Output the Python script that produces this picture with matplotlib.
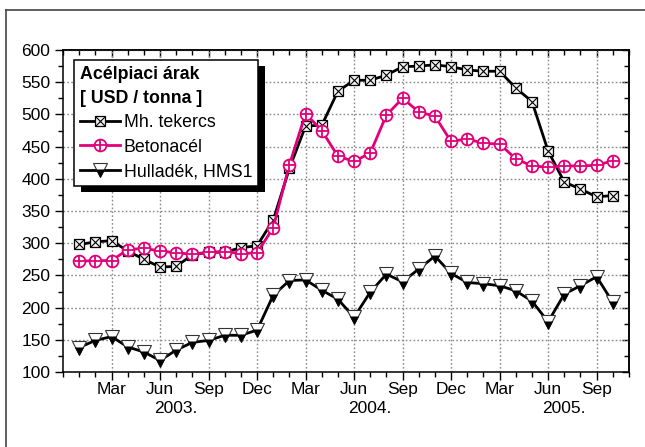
import numpy as np
import pandas as pd
import matplotlib
matplotlib.use("Agg")
import matplotlib.pyplot as plt
from matplotlib.lines import Line2D
from matplotlib.patches import Rectangle
from matplotlib.legend_handler import HandlerTuple

plt.rcParams['font.family'] = ['Liberation Sans', 'DejaVu Sans']

# ---------------- data ----------------
months = pd.date_range('2003-01-01', periods=34, freq='MS')
mh_tekercs = [298, 302, 304, 288, 275, 263, 264, 282, 286, 286, 293, 296,
              336, 416, 482, 483, 536, 553, 553, 561, 574, 575, 577, 574,
              569, 567, 567, 541, 520, 443, 395, 384, 372, 374]
betonacel = [272, 273, 273, 290, 292, 288, 285, 283, 286, 287, 284, 285,
             324, 422, 501, 475, 435, 427, 440, 499, 525, 504, 497, 458,
             462, 455, 454, 431, 420, 418, 420, 420, 421, 428]
hulladek = [138, 149, 155, 139, 131, 118, 134, 146, 149, 157, 157, 165,
            219, 242, 243, 227, 213, 185, 224, 252, 240, 260, 280, 253,
            239, 237, 234, 226, 210, 178, 221, 234, 248, 208]
series_labels = ['Mh. tekercs', 'Betonacél', 'Hulladék, HMS1']
legend_title = 'Acélpiaci árak\n[ USD / tonna ]'
month_names = {3: 'Mar', 6: 'Jun', 9: 'Sep', 12: 'Dec'}
year_labels = ['2003.', '2004.', '2005.']

x = np.arange(len(months))
pink = '#e2007a'

fig = plt.figure(figsize=(6.45, 4.47), dpi=100)
ax = fig.add_axes([63/645, 1-372/447, (629-63)/645, (372-50)/447])

# figure frame (top + left edges visible)
fig.add_artist(Line2D([6/645, 1.0], [1-10/447, 1-10/447], transform=fig.transFigure,
                      color='#444444', lw=1.2))
fig.add_artist(Line2D([6/645, 6/645], [0.0, 1-10/447], transform=fig.transFigure,
                      color='#444444', lw=1.2))

lw = 2.0
# Mh. tekercs : square with X
l1, = ax.plot(x, mh_tekercs, color='black', lw=lw, marker='s', ms=7.5,
              mfc='#f2f2f2', mec='black', mew=0.9, zorder=3)
l1b, = ax.plot(x, mh_tekercs, ls='none', marker='x', ms=6.5, mec='black', mew=0.8, zorder=3.1)
# Betonacél : circle with plus
l2, = ax.plot(x, betonacel, color=pink, lw=lw, marker='o', ms=8.5,
              mfc='white', mec=pink, mew=1.3, zorder=3.2)
l2b, = ax.plot(x, betonacel, ls='none', marker='+', ms=8.5, mec=pink, mew=1.3, zorder=3.3)
# Hulladék : down triangle, top white band, lower black
l3, = ax.plot(x, hulladek, color='black', lw=lw, marker='v', ms=10,
              mfc='white', mec='#333333', mew=0.8, zorder=3.4)
inner = [(-0.6, 0.1), (0.6, 0.1), (0.0, -1.0), (-0.6, 0.1)]
l3b, = ax.plot(x, hulladek, ls='none', marker=inner, ms=10, mfc='black', mec='black',
               mew=0.3, zorder=3.5)

# axes limits & ticks
ax.set_xlim(-1, 34)
ax.set_ylim(100, 600)
major_idx = [i for i, m in enumerate(months) if m.month in month_names]
major_lab = [month_names[months[i].month] for i in major_idx]
minor_idx = list(range(-1, 35))
ax.set_xticks(major_idx)
ax.set_xticklabels(major_lab)
ax.set_xticks(minor_idx, minor=True)
ax.set_yticks(np.arange(100, 601, 50))
ax.set_yticks(np.arange(100, 601, 25), minor=True)
ax.tick_params(which='major', direction='out', length=6, width=1.0, labelsize=12.5, pad=3)
ax.tick_params(which='minor', direction='out', length=3.5, width=1.0)
ax.tick_params(axis='x', which='major', pad=1.5)
ax.grid(True, which='major', color='#8a8a8a', ls=(0, (1.2, 1.6)), lw=1.0)
for sp in ax.spines.values():
    sp.set_linewidth(1.1)

top = ax.secondary_xaxis('top')
top.set_xticks(major_idx)
top.set_xticks(minor_idx, minor=True)
top.tick_params(which='major', direction='in', length=5, width=1.0, labeltop=False)
top.tick_params(which='minor', direction='in', length=3.5, width=1.0)
top.spines['top'].set_linewidth(1.1)
right = ax.secondary_yaxis('right')
right.set_yticks(np.arange(100, 601, 50))
right.set_yticks(np.arange(100, 601, 25), minor=True)
right.tick_params(which='major', direction='in', length=5, width=1.0, labelright=False)
right.tick_params(which='minor', direction='in', length=3.5, width=1.0)
right.spines['right'].set_linewidth(1.1)

# year labels under the month labels
for k, yl in enumerate(year_labels):
    ax.text(6 + 12*k, -0.113, yl, transform=ax.get_xaxis_transform(),
            ha='center', va='center', fontsize=12.5)

# legend
leg = ax.legend([(l1, l1b), (l2, l2b), (l3, l3b)], series_labels,
                handler_map={tuple: HandlerTuple(ndivide=1)},
                title=legend_title, title_fontproperties={'weight': 'bold', 'size': 12.8},
                alignment='left', loc='upper left', bbox_to_anchor=(0.019, 0.969),
                borderaxespad=0, fontsize=12.8, handlelength=2.25, handletextpad=0.2,
                labelspacing=0.42, borderpad=0.35, fancybox=False, framealpha=1,
                edgecolor='black')
leg.get_title().set_linespacing(1.5)
leg.get_frame().set_linewidth(1.1)
leg.set_zorder(6)

fig.canvas.draw()
bb = leg.get_window_extent().transformed(fig.transFigure.inverted())
ax.add_patch(Rectangle((bb.x0 + 7/645, bb.y0 - 6/447), bb.width, bb.height,
                       transform=fig.transFigure, facecolor='black', edgecolor='none',
                       zorder=5.5, clip_on=False))

fig.savefig('out.png', dpi=100)
